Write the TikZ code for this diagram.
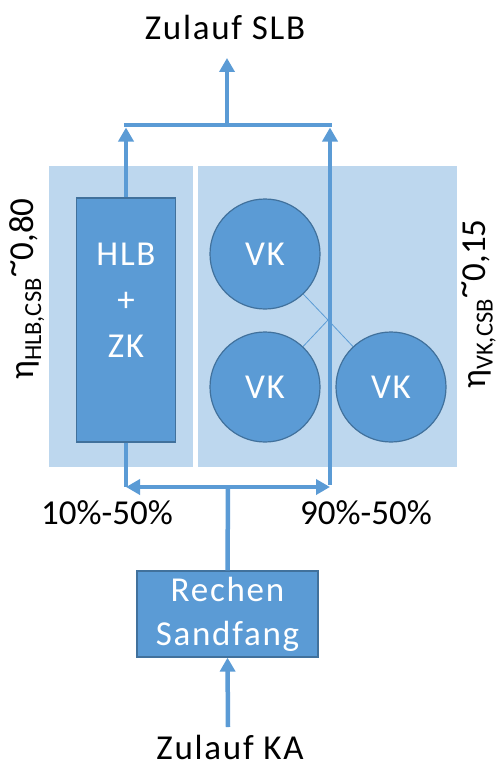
\documentclass[tikz,border=0pt]{standalone}
\usepackage{fontspec}
\setmainfont{Carlito}
\newfontfamily\widefont[LetterSpace=5]{Carlito}
\usetikzlibrary{arrows.meta}
\definecolor{panel}{HTML}{BDD7EE}
\definecolor{boxfill}{HTML}{5B9BD5}
\definecolor{boxedge}{HTML}{41719C}
\definecolor{flow}{HTML}{5B9BD5}
\newcommand{\mytilde}{\raisebox{0.3em}{\textasciitilde}}
\begin{document}
\begin{tikzpicture}[x=1pt,y=-1pt,
  unit/.style={fill=boxfill, draw=boxedge, line width=1.2pt, text=white,
    font=\widefont\fontsize{35}{44}\selectfont, align=center, inner sep=0pt},
  vk/.style={unit, circle, minimum size=110pt},
  flowline/.style={draw=flow, line width=4.5pt},
  flowarrow/.style={flowline, -{Triangle[length=14pt,width=15pt]}},
  link/.style={draw=flow, line width=0.8pt},
  lbl/.style={font=\fontsize{35}{42}\selectfont, text=black, inner sep=0pt},
  widelbl/.style={lbl, font=\widefont\fontsize{35}{42}\selectfont}
]
\useasboundingbox (0,0) rectangle (496,765);
% panels
\fill[panel] (49,166) rectangle (193,467);
\fill[panel] (198,166) rectangle (457,467);
% junction of the thin links
\coordinate (j) at (328,320);
\coordinate (c1) at (265,254);
\coordinate (c2) at (265,387);
\coordinate (c3) at (391,387);
\draw[link] (c1) -- (j) -- (c3);
\draw[link] (c2) -- (j);
% units
\node[vk] (vk1) at (c1) {VK};
\node[vk] (vk2) at (c2) {VK};
\node[vk] (vk3) at (c3) {VK};
\node[unit, minimum width=99pt, minimum height=244pt] (hlb) at (126,320) {};
\node[text=white, font=\widefont\fontsize{35}{46}\selectfont, align=center, inner sep=0pt] (hlbtext) at (126,300) {HLB\\+\\ZK};
\node[unit, minimum width=181pt, minimum height=86pt] (rechen) at (227.5,614) {Rechen\\Sandfang};
% texts
\node[widelbl] (slb) at (225,27) {Zulauf SLB};
\node[widelbl] (ka) at (230,747) {Zulauf KA};
\node[lbl] (p1) at (107,513) {10\%-50\%};
\node[lbl] (p2) at (366,513) {90\%-50\%};
\node[lbl, rotate=90] (etah) at (27,289) {η\textsubscript{HLB,CSB}\mytilde 0,80};
\node[lbl, rotate=90] (etav) at (479,304) {η\textsubscript{VK,CSB}\mytilde 0,15};
% flow coordinates
\coordinate (tl) at (126,125);
\coordinate (tm) at (227,125);
\coordinate (tr) at (330,125);
\coordinate (tlh) at (126,127.5);
\coordinate (trh) at (330,127.5);
\coordinate (top) at (227,58);
\coordinate (bl) at (126,487);
\coordinate (bm) at (228,487);
\coordinate (br) at (330,487);
\coordinate (kastart) at (228,727);
% flows
\draw[flowline] ([xshift=-2.25pt]tl) -- ([xshift=2.25pt]tr);
\draw[flowarrow] (tm) -- (top);
\draw[flowarrow] (hlb.north) -- (tlh);
\draw[flowarrow] ([yshift=2.25pt]br) -- (trh);
\draw[flowline] (hlb.south) -- (bl);
\draw[flowarrow] (bm) -- (bl);
\draw[flowarrow] (bm) -- (br);
\draw[flowline] (rechen.north) -- (bm);
\draw[flowarrow] (kastart) -- (rechen.south);
\end{tikzpicture}
\end{document}
